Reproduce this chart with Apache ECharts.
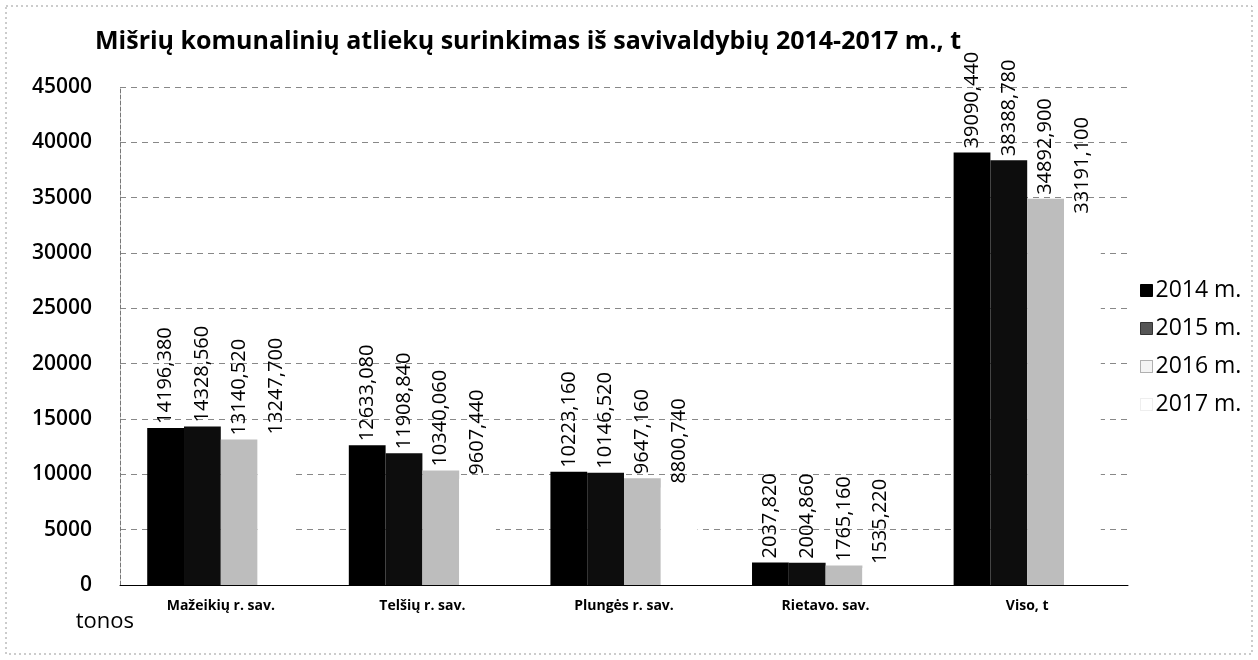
<!DOCTYPE html>
<html lang="lt">
<head>
    <meta charset="utf-8">
    <script src="https://cdn.jsdelivr.net/npm/echarts@6/dist/echarts.min.js"></script>
    <style>
        html, body { margin: 0; padding: 0; background: #fff; }
        #chart { width: 1258px; height: 660px; }
    </style>
</head>
<body>
<div id="chart"></div>
<script>
    // duomenys
    var categories = ['Mažeikių r. sav.', 'Telšių r. sav.', 'Plungės r. sav.', 'Rietavo. sav.', 'Viso, t'];
    var years = ['2014 m.', '2015 m.', '2016 m.', '2017 m.'];
    var v2014 = [14196.380, 12633.080, 10223.160, 2037.820, 39090.440];
    var v2015 = [14328.560, 11908.840, 10146.520, 2004.860, 38388.780];
    var v2016 = [13140.520, 10340.060, 9647.160, 1765.160, 34892.900];
    var v2017 = [13247.700, 9607.440, 8800.740, 1535.220, 33191.100];
    var yTicks = [0, 5000, 10000, 15000, 20000, 25000, 30000, 35000, 40000, 45000];

    var seriesData = [v2014, v2015, v2016, v2017];
    var fills = ['#000000', '#0d0d0d', '#bdbdbd', '#ffffff'];
    var legendFills = ['#000000', '#555555', '#f4f4f4', '#ffffff'];
    var legendBorders = ['#000', '#333', '#666', '#ddd'];

    var font = 'Open Sans';

    function fmt(p) {
        return p.value.toFixed(3).replace('.', ',');
    }

    var series = [];
    for (var i = 0; i < years.length; i++) {
        series.push({
            name: years[i],
            type: 'bar',
            data: seriesData[i],
            barGap: '0%',
            barCategoryGap: '27%',
            itemStyle: { color: fills[i] },
            label: {
                show: true,
                position: 'top',
                rotate: 90,
                align: 'left',
                verticalAlign: 'middle',
                distance: 4,
                fontFamily: font,
                fontSize: 20,
                color: '#000',
                formatter: fmt
            }
        });
    }

    var chart = echarts.init(document.getElementById('chart'));
    chart.setOption({
        animation: false,
        backgroundColor: '#fff',
        title: {
            text: 'Mišrių komunalinių atliekų surinkimas iš savivaldybių 2014-2017 m., t',
            left: 90,
            top: 24,
            textStyle: { fontFamily: font, fontWeight: 'bold', fontSize: 25, color: '#000' }
        },
        legend: {
            orient: 'vertical',
            left: 1135,
            top: 274,
            icon: 'rect',
            itemWidth: 12,
            itemHeight: 12,
            itemGap: 15,
            data: years.map(function (y, i) {
                return {
                    name: y,
                    itemStyle: { color: legendFills[i], borderColor: legendBorders[i], borderWidth: 1, borderType: i >= 2 ? 'dotted' : 'solid' }
                };
            }),
            textStyle: { fontFamily: font, fontSize: 23, color: '#000', padding: [0, 0, 0, -2] }
        },
        grid: { left: 120, right: 130, top: 87, bottom: 75 },
        xAxis: {
            type: 'category',
            data: categories,
            axisLine: { show: true, lineStyle: { color: '#000', width: 1 } },
            axisTick: { show: false },
            axisLabel: { fontFamily: font, fontSize: 14, fontWeight: 'bold', color: '#000', margin: 14 }
        },
        yAxis: {
            type: 'value',
            min: yTicks[0],
            max: yTicks[yTicks.length - 1],
            interval: 5000,
            name: 'tonos',
            nameLocation: 'start',
            nameGap: 26,
            nameTextStyle: { fontFamily: font, fontSize: 22, color: '#000', align: 'right', padding: [0, -14, 0, 0] },
            axisLine: { show: true, lineStyle: { color: '#777', type: 'dashed' } },
            axisTick: { show: false },
            axisLabel: {
                fontFamily: font, fontSize: 21, fontWeight: 600, color: '#000', margin: 28,
                formatter: function (v) { return String(v); }
            },
            splitLine: { show: true, lineStyle: { color: '#888', type: [6, 5] } }
        },
        graphic: [{
            type: 'rect',
            shape: { x: 6, y: 6, width: 1246, height: 648 },
            style: { fill: 'none', stroke: '#999', lineWidth: 1, lineDash: [2, 3] },
            silent: true
        }],
        series: series
    });
</script>
</body>
</html>
